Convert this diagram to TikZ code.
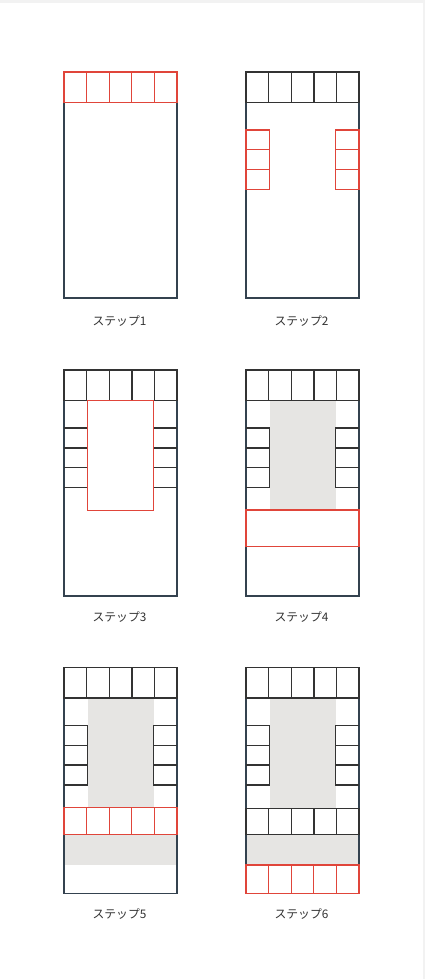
\documentclass[tikz,border=0pt]{standalone}
\usepackage{fontspec}
\newfontfamily\jp{Noto Sans CJK JP}
\definecolor{redl}{HTML}{E0453A}
\definecolor{darkl}{HTML}{333333}
\definecolor{outl}{HTML}{34424F}
\definecolor{grayf}{HTML}{E6E5E3}
\definecolor{bgg}{HTML}{F2F2F2}
\tikzset{
 outerbox/.style={draw=outl, line width=1.1pt},
 blk/.style={draw=darkl, line width=1.4pt},
 redc/.style={draw=redl, line width=1.3pt},
 grayfill/.style={fill=grayf, draw=none},
 lbl/.style={font=\jp\fontsize{11.8}{13}\selectfont, text=darkl, inner sep=0pt}
}
\newcommand\cellrow[3]{%
 \foreach \i in {0,...,4} { \draw[#1] ({22.6*\i},#2) rectangle ({22.6*(\i+1)},#3); }}
\newcommand\sidecells[1]{%
 \foreach \j in {0,1,2} {
   \draw[#1] (0,{58+19.8*\j}) rectangle (23.5,{58+19.8*(\j+1)});
   \draw[#1] (89.5,{58+19.8*\j}) rectangle (113,{58+19.8*(\j+1)}); }}
\newcommand\sidelines[1]{%
 \foreach \j in {0,1,2} {
   \draw[#1] (0,{58+19.8*\j}) -- (23.5,{58+19.8*\j}) -- (23.5,{58+19.8*(\j+1)}) -- (0,{58+19.8*(\j+1)});
   \draw[#1] (113,{58+19.8*\j}) -- (89.5,{58+19.8*\j}) -- (89.5,{58+19.8*(\j+1)}) -- (113,{58+19.8*(\j+1)}); }}
\newcommand\outerrect{\draw[outerbox] (0,0) rectangle (113,226);}
\begin{document}
\begin{tikzpicture}[x=1pt,y=-1pt]
\fill[bgg] (0,0) rectangle (425,979);
\fill[white] (0,3) rectangle (422.5,979);
\useasboundingbox (0,0) rectangle (425,979);
% Step 1
\begin{scope}[shift={(64,72)}]
 \outerrect
 \cellrow{redc}{0}{30.5}
 \node[lbl] (l1) at (55.5,249) {ステップ1};
\end{scope}
% Step 2
\begin{scope}[shift={(246,72)}]
 \outerrect
 \cellrow{blk}{0}{30.5}
 \sidecells{redc}
 \node[lbl] (l2) at (55.5,249) {ステップ2};
\end{scope}
% Step 3
\begin{scope}[shift={(64,370)}]
 \outerrect
 \cellrow{blk}{0}{30.5}
 \sidelines{blk}
 \draw[redc] (23.5,30.5) rectangle (89.5,140.5);
 \node[lbl] (l3) at (55.5,247) {ステップ3};
\end{scope}
% Step 4
\begin{scope}[shift={(246,370)}]
 \fill[grayf] (23.5,30.5) rectangle (89.5,139.5);
 \outerrect
 \cellrow{blk}{0}{30.5}
 \sidelines{blk}
 \draw[redc] (0,140) rectangle (113,176.5);
 \node[lbl] (l4) at (55.5,247) {ステップ4};
\end{scope}
% Step 5
\begin{scope}[shift={(64,667.5)}]
 \fill[grayf] (23.5,30.5) rectangle (89.5,140);
 \fill[grayf] (0,167) rectangle (113,197);
 \outerrect
 \cellrow{blk}{0}{30.5}
 \sidelines{blk}
 \cellrow{redc}{140}{167}
 \node[lbl] (l5) at (55.5,246.5) {ステップ5};
\end{scope}
% Step 6
\begin{scope}[shift={(246,667.5)}]
 \fill[grayf] (23.5,30.5) rectangle (89.5,141);
 \fill[grayf] (0,167) rectangle (113,197.5);
 \outerrect
 \cellrow{blk}{0}{30.5}
 \sidelines{blk}
 \cellrow{blk}{141}{167}
 \cellrow{redc}{197.5}{226}
 \node[lbl] (l6) at (55.5,246.5) {ステップ6};
\end{scope}
\end{tikzpicture}
\end{document}
